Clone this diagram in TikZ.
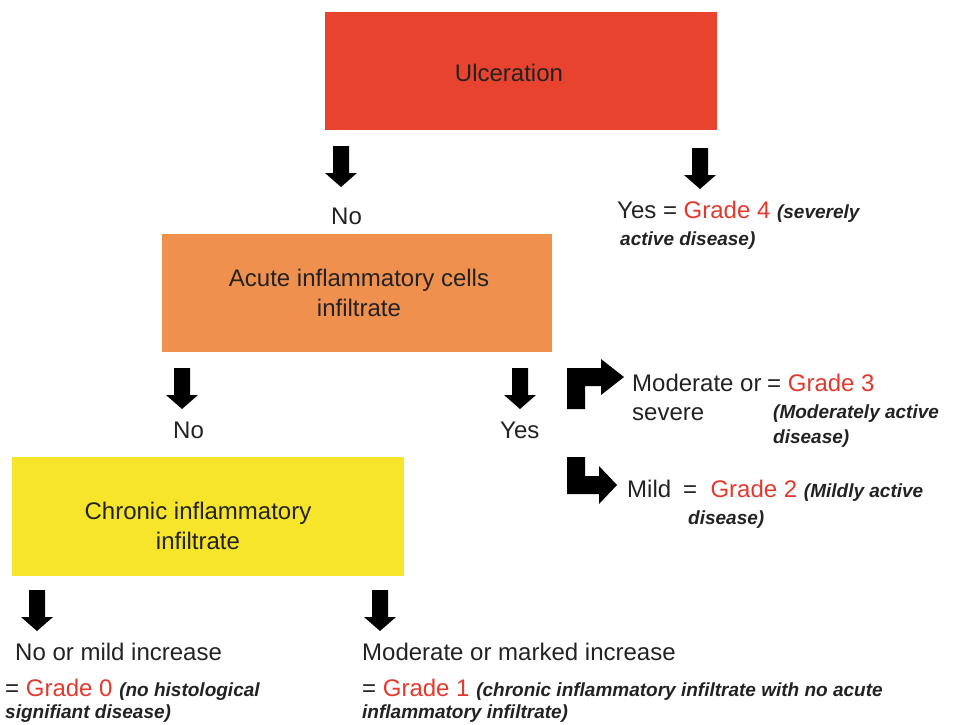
\documentclass[tikz,border=0pt]{standalone}
\usepackage{fontspec}
\setmainfont{Liberation Sans}
\definecolor{ulcred}{HTML}{E8432F}
\definecolor{acuteor}{HTML}{F0904F}
\definecolor{chronyel}{HTML}{F7E52B}
\definecolor{gradered}{HTML}{E0392D}
\definecolor{txt}{HTML}{222222}
\newcommand{\mainsz}{\fontsize{24}{30}\selectfont}
\newcommand{\itsz}{\fontsize{19}{24}\selectfont\bfseries\itshape}
\newcommand{\gr}[1]{\textcolor{gradered}{#1}}
\newcommand{\dnarr}[2]{\fill[black] (#1-8,#2) -- (#1+8,#2) -- (#1+8,#2+27) -- (#1+16,#2+27) -- (#1,#2+41) -- (#1-16,#2+27) -- (#1-8,#2+27) -- cycle;}
\begin{document}
\begin{tikzpicture}[x=1pt,y=-1pt,
  box/.style={draw=none,inner sep=0pt,align=center,text=txt,font=\mainsz},
  lbl/.style={anchor=base west,inner sep=0pt,text=txt,font=\mainsz},
  itl/.style={anchor=base west,inner sep=0pt,text=txt,font=\itsz}]
\useasboundingbox (0,0) rectangle (957,724);
% boxes
\fill[ulcred] (325,12) rectangle (717,130);
\node[box] (ulc) at (509,73) {Ulceration};
\fill[acuteor] (162,234) rectangle (552,352);
\node[box] (acute) at (359,293) {Acute inflammatory cells\\infiltrate};
\fill[chronyel] (12,457) rectangle (404,576);
\node[box] (chron) at (198,526) {Chronic inflammatory\\infiltrate};
% down arrows
\dnarr{341}{146}
\dnarr{700}{148}
\dnarr{182}{368}
\dnarr{520}{368}
\dnarr{37}{590}
\dnarr{380}{590}
% bent arrows
\fill[black] (567,409) -- (567,368) -- (601,368) -- (601,359) -- (624,377) -- (601,395) -- (601,386) -- (585,386) -- (585,409) -- cycle;
\fill[black] (567,457) -- (585,457) -- (585,476) -- (599,476) -- (599,466) -- (617,485) -- (599,504) -- (599,494) -- (567,494) -- cycle;
% labels level 1
\node[lbl] (no1) at (331,224) {No};
\node[lbl] (yes1) at (617,218) {Yes = \gr{Grade 4} {\itsz (severely}};
\node[itl] (yes1b) at (620,245) {active disease)};
% level 2
\node[lbl] (no2) at (173,438) {No};
\node[lbl] (yes2) at (500,438) {Yes};
\node[lbl] (mod) at (632,391) {Moderate or};
\node[lbl] (g3) at (767,391) {= \gr{Grade 3}};
\node[lbl] (sev) at (632,420) {severe};
\node[itl] (g3a) at (773,418) {(Moderately active};
\node[itl] (g3b) at (773,443) {disease)};
\node[lbl] (mild) at (627,497) {Mild};
\node[lbl] (g2) at (683,497) {= \ \gr{Grade 2} {\itsz (Mildly active}};
\node[itl] (g2b) at (688,524) {disease)};
% level 3
\node[lbl] (nomild) at (15,660) {No or mild increase};
\node[lbl] (g0) at (5,696) {= \gr{Grade 0} {\itsz (no histological}};
\node[itl] (g0b) at (5,718) {signifiant disease)};
\node[lbl] (modmark) at (362,660) {Moderate or marked increase};
\node[lbl] (g1) at (362,696) {= \gr{Grade 1} {\itsz (chronic inflammatory infiltrate with no acute}};
\node[itl] (g1b) at (362,718) {inflammatory infiltrate)};
\end{tikzpicture}
\end{document}
